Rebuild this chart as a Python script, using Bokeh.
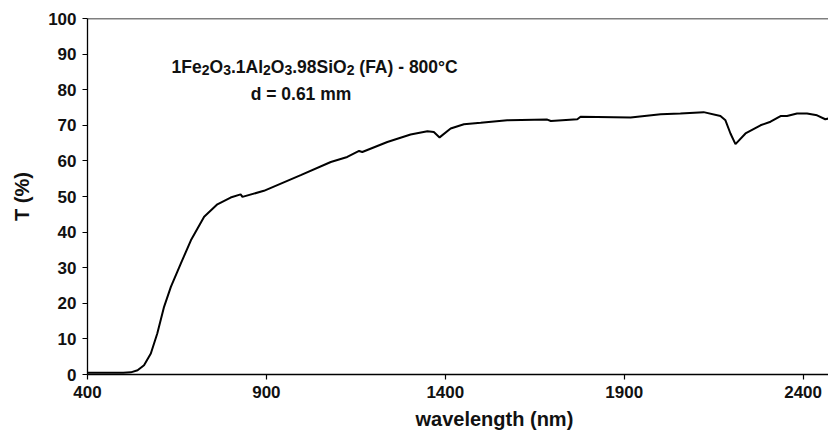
from bokeh.plotting import figure
from bokeh.models import Label, FixedTicker, Range1d, Span, Title
from bokeh.embed import file_html
from bokeh.resources import INLINE

# ---- data ----
wavelength = [400, 450, 500, 521, 540, 558, 577, 595, 614, 633, 661, 689, 726, 763,
              800, 828, 833, 893, 996, 1080, 1126, 1159, 1168, 1238, 1303, 1350,
              1368, 1384, 1415, 1452, 1499, 1573, 1685, 1695, 1769, 1778, 1918,
              2002, 2057, 2122, 2169, 2183, 2197, 2211, 2239, 2281, 2309, 2337,
              2355, 2383, 2411, 2439, 2462, 2471]
transmittance = [0.5, 0.5, 0.5, 0.6, 1.2, 2.6, 5.9, 11.5, 19.0, 24.6, 31.2, 37.7, 44.3, 47.8,
                 49.7, 50.6, 49.9, 51.6, 56.0, 59.7, 61.1, 62.8, 62.5, 65.3, 67.4, 68.3,
                 68.1, 66.6, 69.1, 70.3, 70.7, 71.4, 71.6, 71.2, 71.7, 72.4, 72.2,
                 73.1, 73.3, 73.7, 72.6, 71.4, 67.7, 64.7, 67.7, 70.0, 71.0, 72.6,
                 72.6, 73.3, 73.3, 72.8, 71.7, 71.9]

x_ticks = [400, 900, 1400, 1900, 2400]
x_tick_labels = ["400", "900", "1400", "1900", "2400"]
y_ticks = [0, 10, 20, 30, 40, 50, 60, 70, 80, 90, 100]
y_tick_labels = ["0", "10", "20", "30", "40", "50", "60", "70", "80", "90", "100"]

x_label = "wavelength (nm)"
y_label = "T (%)"
# title pieces: (text, is_subscript)
title_pieces = [("1Fe", False), ("2", True), ("O", False), ("3", True), (".1Al", False),
                ("2", True), ("O", False), ("3", True), (".98SiO", False), ("2", True),
                (" ", False), ("(FA) - 800\u00b0C", False)]
subtitle = "d = 0.61 mm"

FONT = "Liberation Sans"

p = figure(width=828, height=434, output_backend="svg", toolbar_location=None,
           x_range=Range1d(400, 2471), y_range=Range1d(0, 100),
           min_border_left=87, min_border_right=0, min_border_top=18, min_border_bottom=60)
p.background_fill_color = "white"
p.border_fill_color = "white"
p.outline_line_color = None
p.xgrid.visible = False
p.ygrid.visible = False

p.line(wavelength, transmittance, line_color="black", line_width=2)

for ax in (p.xaxis[0], p.yaxis[0]):
    ax.axis_line_color = "black"
    ax.axis_line_width = 1.3
    ax.major_tick_line_color = "black"
    ax.major_tick_line_width = 1.2
    ax.major_tick_in = 0
    ax.major_tick_out = 5
    ax.minor_tick_line_color = None
    ax.major_label_text_font = FONT
    ax.major_label_text_font_style = "bold"
    ax.major_label_text_font_size = "17px"
    ax.major_label_text_color = "#111111"
    ax.major_label_standoff = 6

p.xaxis.ticker = FixedTicker(ticks=x_ticks)
p.xaxis.major_label_overrides = dict(zip(x_ticks, x_tick_labels))
p.yaxis.ticker = FixedTicker(ticks=y_ticks)
p.yaxis.major_label_overrides = dict(zip(y_ticks, y_tick_labels))

p.yaxis.axis_label = y_label
p.yaxis.axis_label_text_font = FONT
p.yaxis.axis_label_text_font_style = "bold"
p.yaxis.axis_label_text_font_size = "20px"
p.yaxis.axis_label_text_color = "#111111"
p.yaxis.axis_label_standoff = 12

# top frame line
p.add_layout(Span(location=100, dimension="width", line_color="black", line_width=1.3))

# x axis label (placed off-centre as in the reference) as a below-panel title
p.add_layout(Title(text=x_label, align="left", offset=328, standoff=10,
                   text_font=FONT, text_font_style="bold", text_font_size="20px",
                   text_color="#111111"), "below")

# title with subscripts
widths = {'0': .556, '1': .556, '2': .556, '3': .556, '4': .556, '5': .556, '6': .556,
          '7': .556, '8': .556, '9': .556, 'F': .611, 'e': .556, 'O': .778, '.': .278,
          'A': .722, 'l': .278, 'S': .667, 'i': .278, ' ': .278, '(': .333, ')': .333,
          '-': .333, '\u00b0': .4, 'C': .722, 'd': .611, '=': .584, 'm': .889}
MAIN, SUB = 17.5, 14.0
off = 0.0
for txt, sub in title_pieces:
    size = SUB if sub else MAIN
    if txt.strip():
        p.add_layout(Label(x=635, y=86.4, x_offset=off, y_offset=-3 if sub else 0, text=txt,
                           text_align="left", text_baseline="alphabetic", text_font=FONT,
                           text_font_style="bold", text_font_size=f"{size}px",
                           text_color="#111111"))
    off += sum(widths.get(c, .556) for c in txt) * size

p.add_layout(Label(x=856, y=78.9, text=subtitle, text_align="left",
                   text_baseline="alphabetic", text_font=FONT, text_font_style="bold",
                   text_font_size=f"{MAIN}px", text_color="#111111"))

open("out.html", "w").write(file_html(p, INLINE))
